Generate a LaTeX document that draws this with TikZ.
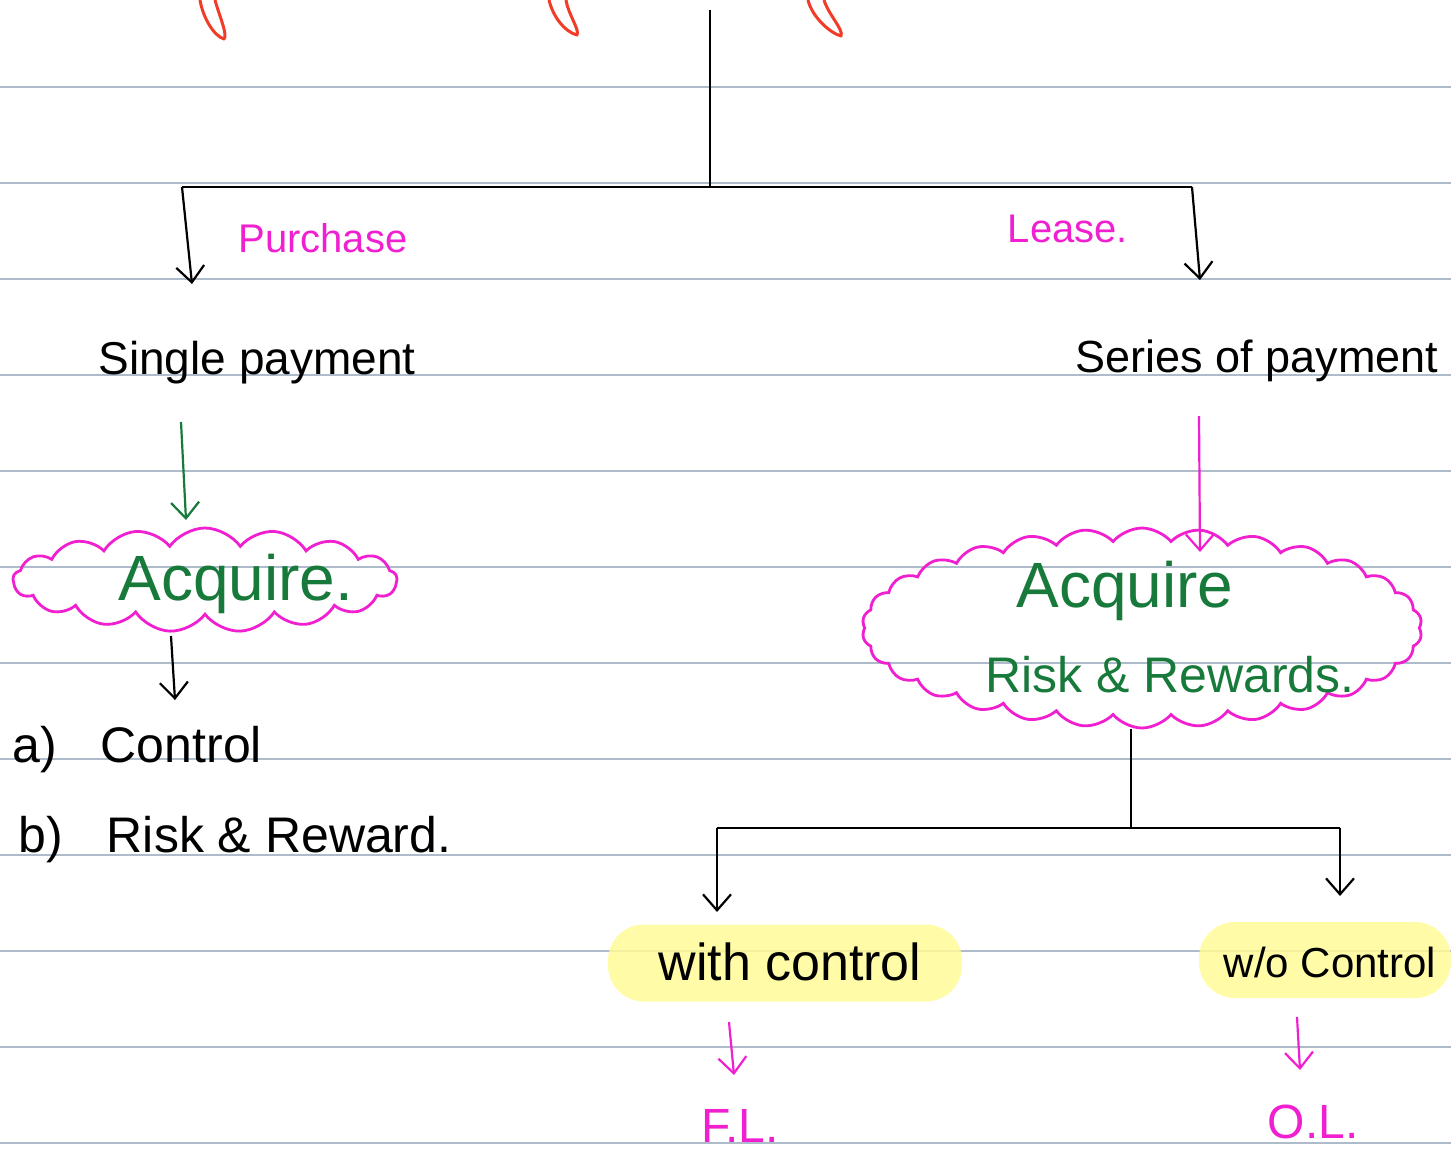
\documentclass[tikz,border=0pt]{standalone}
\usepackage{fontspec}
\setmainfont{Liberation Sans}
\usetikzlibrary{arrows.meta,shapes.symbols,calc}
\definecolor{ruleblue}{HTML}{AEBBCB}
\definecolor{mag}{HTML}{F020D0}
\definecolor{grn}{HTML}{17793A}
\definecolor{hlyel}{HTML}{FFFA96}
\definecolor{redink}{HTML}{F03C28}
\tikzset{
  ruleline/.style={draw=ruleblue,line width=0.6pt},
  blk/.style={draw=black,line width=1.4pt},
  harrow/.style={line width=1.1pt,-{Straight Barb[length=8pt,width=14pt,line width=1.1pt]}},
  redtip/.style={draw=redink,line width=1.5pt,line join=round},
  cloudbox/.style={cloud,draw=mag,line width=1.4pt,cloud puffs=#1,cloud puff arc=110,inner sep=0pt},
  hlbox/.style={fill=hlyel,fill opacity=0.85,rounded corners=18pt,inner sep=0pt},
  fsz/.style={font=\fontsize{#1}{#1}\selectfont},
  txt/.style={anchor=base,inner sep=0pt},
}
\begin{document}
\begin{tikzpicture}[x=0.5pt,y=-0.5pt]
\useasboundingbox (0,0) rectangle (1451,1152);
% ruled lines
\foreach \yy in {87,183,279,375,471,567,663,759,855,951,1047,1143}
  \draw[ruleline] (0,\yy) -- (1451,\yy);
% red tips at the top
\draw[redtip] (200,0) .. controls (203,18) and (214,36) .. (224,39) .. controls (228,35) and (219,15) .. (215,0);
\draw[redtip] (549,0) .. controls (553,17) and (565,32) .. (577,35) .. controls (580,30) and (568,14) .. (566,0);
\draw[redtip] (808,0) .. controls (812,17) and (830,33) .. (841,36) .. controls (844,30) and (828,14) .. (824,0);

% highlights
\node[hlbox,minimum width=177pt,minimum height=38.5pt] (hlL) at (785,963) {};
\node[hlbox,minimum width=126pt,minimum height=38pt] (hlR) at (1325,960) {};

% clouds
\node[cloudbox=17,aspect=3.7,minimum width=192pt,minimum height=52pt] (acqL) at (205,580) {};
\node[cloudbox=30,cloud puff arc=100,aspect=2.8,minimum width=280pt,minimum height=100pt] (acqR) at (1142,628) {};

% texts
\node[txt,fsz=20pt,text=mag] (purchase) at (323,252) {Purchase};
\node[txt,fsz=20pt,text=mag] (lease) at (1068,242) {Lease.};
\node[txt,fsz=23pt] (single) at (257,374) {Single payment};
\node[txt,fsz=22.5pt] (series) at (1257,372) {Series of payment};
\node[txt,fsz=32pt,text=grn] (acqLt) at (236,600) {Acquire.};
\node[txt,fsz=32pt,text=grn] (acqRt) at (1125,607) {Acquire};
\node[txt,fsz=25pt,text=grn] (rrR) at (1170,692) {Risk \& Rewards.};
\node[txt,anchor=base west,fsz=25pt] (la) at (12,762) {a)\hspace{22pt}Control};
\node[txt,anchor=base west,fsz=25pt] (lb) at (18,852) {b)\hspace{22pt}Risk \& Reward.};
\node[txt,fsz=26pt] (wc) at (790,980) {with control};
\node[txt,fsz=21pt] (woc) at (1330,977) {w/o Control};
\node[txt,fsz=24pt,text=mag] (fl) at (740,1142) {F.L.};
\node[txt,fsz=24pt,text=mag] (ol) at (1313,1138) {O.L.};

% tree coordinates
\coordinate (t0) at (710,10);
\coordinate (j1) at (710,187);
\coordinate (lc) at (182,187);
\coordinate (rc) at (1192,187);
\coordinate (pA) at (192,284);
\coordinate (pB) at (1200,280);
\coordinate (gS) at (181,422);
\coordinate (gE) at (186,520);
\coordinate (kS) at (171,636);
\coordinate (kE) at (175,700);
\coordinate (mS) at (1199,416);
\coordinate (mE) at (1200,552);
\coordinate (j2) at (1131,828);
\coordinate (lc2) at (717,828);
\coordinate (rc2) at (1340,828);
\coordinate (wA) at (717,912);
\coordinate (wB) at (1340,896);
\coordinate (fS) at (729,1022);
\coordinate (fE) at (734,1075);
\coordinate (oS) at (1297,1017);
\coordinate (oE) at (1300,1070);

% connectors
\draw[blk] (t0) -- (j1);
\draw[blk] (lc) -- (rc);
\draw[harrow] (lc) -- (pA);
\draw[harrow] (rc) -- (pB);
\draw[harrow,draw=grn] (gS) -- (gE);
\draw[harrow] (kS) -- (kE);
\draw[harrow,draw=mag] (mS) -- (mE);
\draw[blk] (acqR.south -| j2) -- (j2);
\draw[blk] (lc2) -- (rc2);
\draw[harrow] (lc2) -- (wA);
\draw[harrow] (rc2) -- (wB);
\draw[harrow,draw=mag] (fS) -- (fE);
\draw[harrow,draw=mag] (oS) -- (oE);
\end{tikzpicture}
\end{document}
